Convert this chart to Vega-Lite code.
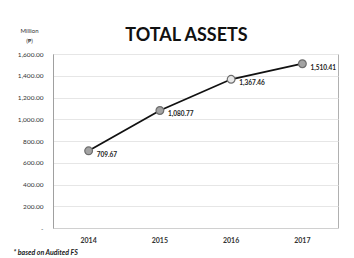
{
  "$schema": "https://vega.github.io/schema/vega-lite/v6.json",
  "autosize": {"type": "none"},
  "width": 285,
  "height": 174,
  "padding": {"left": 53, "top": 54, "right": 16, "bottom": 30},
  "background": "white",
  "config": {
    "font": "Lato",
    "view": {"stroke": "#b0b0b0", "strokeWidth": 1}
  },
  "title": {
    "text": "TOTAL ASSETS",
    "font": "Lato",
    "fontSize": 18,
    "fontWeight": "bold",
    "color": "#111111",
    "anchor": "middle",
    "baseline": "middle",
    "dx": -9,
    "offset": 0,
    "dy": 27
  },
  "data": {
    "values": [
      {"year": "2014", "assets": 709.67},
      {"year": "2015", "assets": 1080.77},
      {"year": "2016", "assets": 1367.46},
      {"year": "2017", "assets": 1510.41}
    ]
  },
  "encoding": {
    "x": {
      "field": "year",
      "type": "ordinal",
      "scale": {"type": "band", "paddingInner": 0, "paddingOuter": 0},
      "axis": {
        "labelAngle": 0,
        "labelFontSize": 7,
        "labelFontWeight": "bold",
        "labelColor": "#333333",
        "labelPadding": 8,
        "ticks": false,
        "domainColor": "#d0d0d0",
        "title": "* based on Audited FS",
        "titleFontSize": 7,
        "titleFontStyle": "italic",
        "titleFontWeight": "bold",
        "titleColor": "#222222",
        "titleAnchor": "start",
        "titleAlign": "left",
        "titleBaseline": "middle",
        "titleX": -40,
        "titleY": 24
      }
    },
    "y": {
      "field": "assets",
      "type": "quantitative",
      "scale": {"domain": [0, 1600], "nice": false},
      "axis": {
        "values": [0, 200, 400, 600, 800, 1000, 1200, 1400, 1600],
        "labelExpr": "datum.value == 0 ? '-' : format(datum.value, ',.2f')",
        "labelFontSize": 6.5,
        "labelColor": "#333333",
        "labelPadding": 10,
        "ticks": false,
        "domainColor": "#a0a0a0",
        "gridColor": "#e6e6e6",
        "title": ["Million", "(₱)"],
        "titleFontSize": 6,
        "titleFontWeight": "normal",
        "titleColor": "#333333",
        "titleAngle": 0,
        "titleAlign": "center",
        "titleBaseline": "middle",
        "titleLineHeight": 10,
        "titleX": -24,
        "titleY": -24
      }
    }
  },
  "layer": [
    {
      "mark": {"type": "line", "color": "#111111", "strokeWidth": 1.8}
    },
    {
      "mark": {"type": "point", "filled": true, "size": 60, "stroke": "#6e6e6e", "strokeWidth": 1.2, "opacity": 1},
      "encoding": {
        "color": {
          "condition": {"test": "datum.year == '2016'", "value": "#e8e8e8"},
          "value": "#a3a3a3"
        }
      }
    },
    {
      "mark": {"type": "text", "align": "left", "dx": 8, "dy": 4, "fontSize": 6.5, "fontWeight": "bold", "color": "#222222"},
      "encoding": {
        "text": {"field": "assets", "type": "quantitative", "format": ",.2f"},
        "yOffset": {
          "condition": {"test": "datum.year == '2017'", "value": -4},
          "value": 0
        }
      }
    }
  ]
}
